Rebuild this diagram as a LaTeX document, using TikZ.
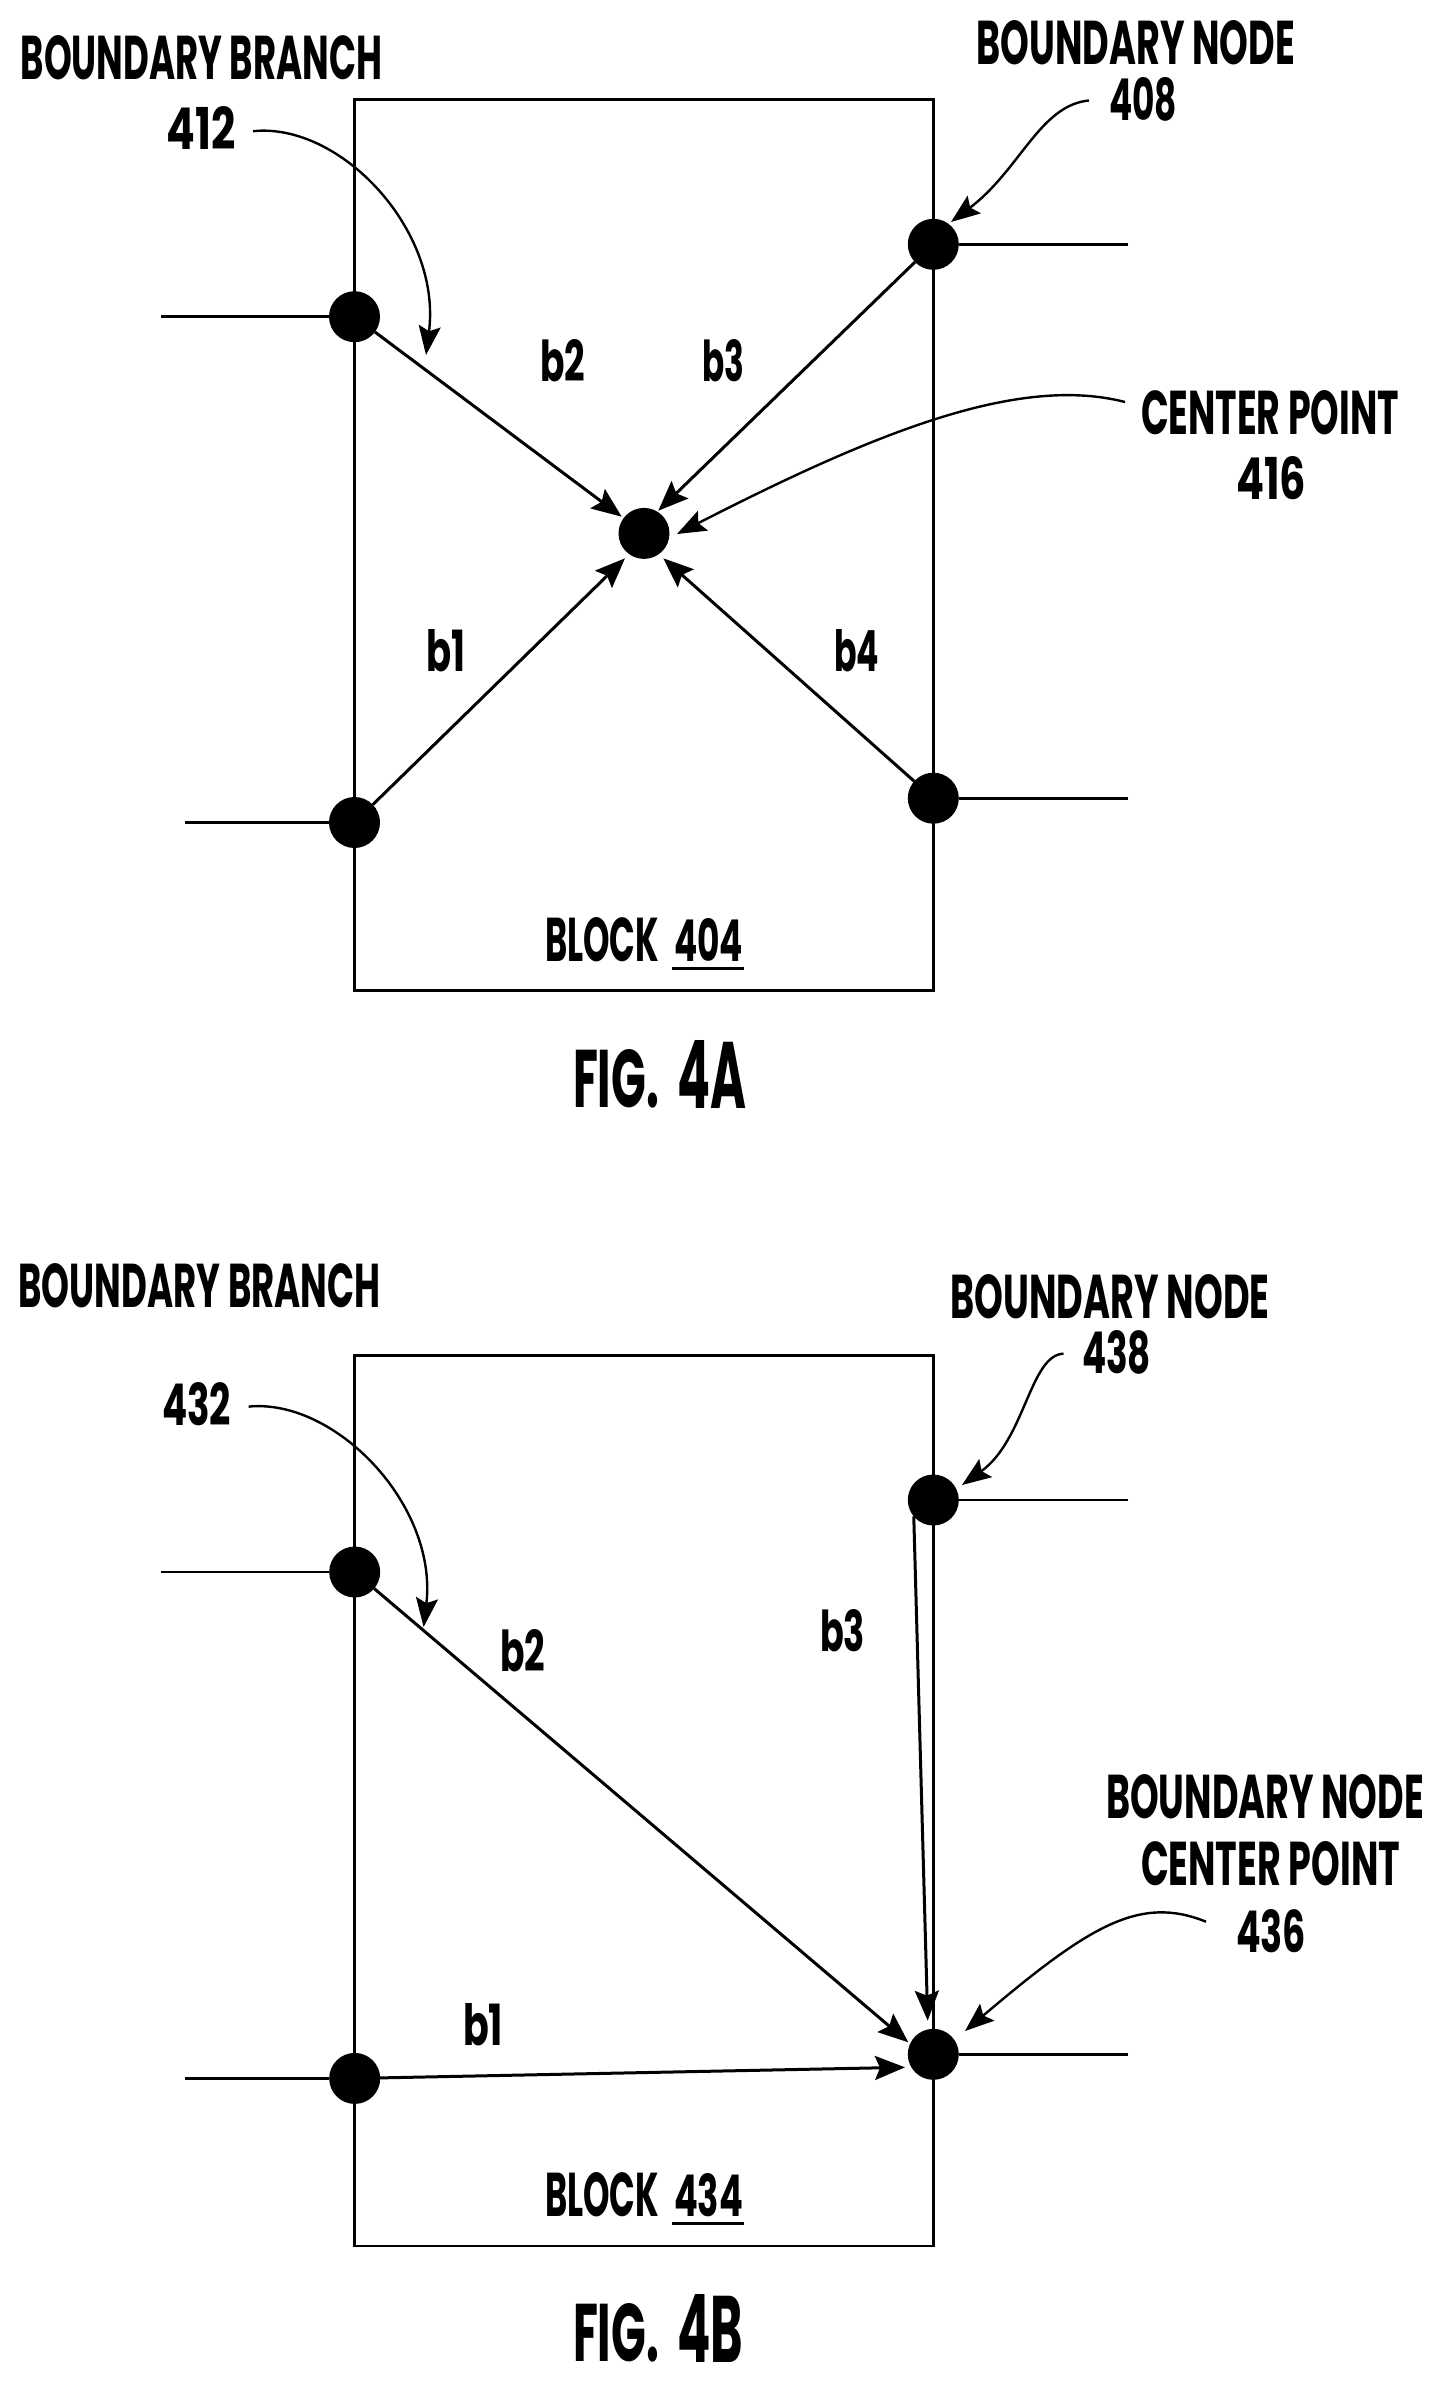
\documentclass[tikz,border=0pt]{standalone}
\usepackage{fontspec}
\setmainfont{Poppins}
\usetikzlibrary{arrows.meta}
\newcommand\fittext[3]{\resizebox{#1pt}{#2pt}{\fontsize{\dimexpr #2pt*10/7\relax}{\dimexpr #2pt*10/7\relax}\selectfont\bfseries #3}}
\tikzset{
  txt/.style={inner sep=0pt,outer sep=0pt,anchor=south west},
  dotnode/.style={circle,fill=black,inner sep=0pt,minimum size=51pt,outer sep=0pt},
  boxline/.style={draw=black,line width=2.8pt,outer sep=0pt},
  stub/.style={draw=black,line width=2.8pt},
  branch/.style={draw=black,line width=3pt,-{Stealth[length=30pt,width=24pt,inset=5pt]}},
  callout/.style={draw=black,line width=2.4pt,-{Stealth[length=29pt,width=22pt,inset=5pt]}},
  ulin/.style={draw=black,line width=3.5pt}
}
\begin{document}
\begin{tikzpicture}[x=1pt,y=-1pt]
\useasboundingbox (0,0) rectangle (1443,2383);
% ---------- FIG 4A ----------
\node[boxline,rectangle,inner sep=0pt,minimum width=578.8pt,minimum height=890.7pt,anchor=north west] (blockA) at (354.5,99.8) {};
\node[dotnode] (altop) at (354.5,316.7) {};
\node[dotnode] (albot) at (354.5,822.5) {};
\node[dotnode] (artop) at (933.3,244.3) {};
\node[dotnode] (arbot) at (933.3,798.2) {};
\node[dotnode] (acen) at (644,533.4) {};
\coordinate (as1) at (161,316.7);
\coordinate (as2) at (185,822.5);
\coordinate (as3) at (1128,244.3);
\coordinate (as4) at (1128,798.2);
\draw[stub] (as1) -- (altop);
\draw[stub] (as2) -- (albot);
\draw[stub] (as3) -- (artop);
\draw[stub] (as4) -- (arbot);
\coordinate (atnw) at (621.7,516.7);
\coordinate (atne) at (658.3,510.7);
\coordinate (atsw) at (625,558.3);
\coordinate (atse) at (663.3,558.3);
\draw[branch] (altop) -- (atnw);
\draw[branch] (artop) -- (atne);
\draw[branch] (albot) -- (atsw);
\draw[branch] (arbot) -- (atse);
\node[txt] (abb) at (20.7,80) {\fittext{361.5}{44}{BOUNDARY BRANCH}};
\node[txt] (a412) at (166.7,149.5) {\fittext{69}{43}{412}};
\node[txt] (abn) at (976.5,65) {\fittext{318.5}{44}{BOUNDARY NODE}};
\node[txt] (a408) at (1109,121.5) {\fittext{68}{43}{408}};
\node[txt] (acp) at (1141,435) {\fittext{258}{44}{CENTER POINT}};
\node[txt] (a416) at (1236,500) {\fittext{70}{43}{416}};
\node[txt] (ab2) at (540,382) {\fittext{45}{42}{b2}};
\node[txt] (ab3) at (702,382) {\fittext{42}{42}{b3}};
\node[txt] (ab1) at (426,671.5) {\fittext{39}{42}{b1}};
\node[txt] (ab4) at (834,671.5) {\fittext{45}{42}{b4}};
\node[txt] (ablk) at (545,961.5) {\fittext{114}{44}{BLOCK}};
\node[txt] (a404) at (674,961.5) {\fittext{69}{43}{404}};
\draw[ulin] ([xshift=-2pt,yshift=-7pt]a404.south west) -- ([xshift=1pt,yshift=-7pt]a404.south east);
\node[txt] (afig) at (573,1108.5) {\fittext{86}{58}{FIG.}};
\node[txt] (a4a) at (677,1108.5) {\fittext{69}{68}{4A}};
\coordinate (ac1) at (253,131.2);
\coordinate (ac2) at (426,355);
\coordinate (ac3) at (1089,100.5);
\coordinate (ac4) at (951,222);
\coordinate (ac5) at (1125,402);
\coordinate (ac6) at (677,534);
\draw[callout] (ac1) .. controls (340,122) and (442,230) .. (ac2);
\draw[callout] (ac3) .. controls (1040,105) and (1020,170) .. (ac4);
\draw[callout] (ac5) .. controls (1020,375) and (880,430) .. (ac6);
% ---------- FIG 4B ----------
\node[boxline,rectangle,inner sep=0pt,minimum width=578.6pt,minimum height=890.5pt,anchor=north west] (blockB) at (354.7,1355.5) {};
\node[dotnode] (bltop) at (354.7,1572) {};
\node[dotnode] (blbot) at (354.7,2078.4) {};
\node[dotnode] (brtop) at (933.3,1500) {};
\node[dotnode] (brbot) at (933.3,2054.3) {};
\coordinate (bs1) at (161,1572);
\coordinate (bs2) at (185,2078.4);
\coordinate (bs3) at (1128,1500);
\coordinate (bs4) at (1128,2054.3);
\draw[stub] (bs1) -- (bltop);
\draw[stub] (bs2) -- (blbot);
\draw[stub] (bs3) -- (brtop);
\draw[stub] (bs4) -- (brbot);
\coordinate (btb2) at (908.3,2042.3);
\coordinate (btb3) at (927.7,2020.7);
\coordinate (btb1) at (905,2067.3);
\draw[branch] (bltop) -- (btb2);
\draw[branch] (brtop.220) -- (btb3);
\draw[branch] (blbot) -- (btb1);
\node[txt] (bbb) at (18.5,1307.5) {\fittext{362}{44}{BOUNDARY BRANCH}};
\node[txt] (b432) at (162,1425.5) {\fittext{69}{43}{432}};
\node[txt] (bbn) at (950.5,1318.5) {\fittext{319}{44}{BOUNDARY NODE}};
\node[txt] (b438) at (1082,1374) {\fittext{69}{43}{438}};
\node[txt] (bb2) at (500,1672) {\fittext{45}{42}{b2}};
\node[txt] (bb3) at (820,1651.5) {\fittext{45}{42}{b3}};
\node[txt] (bb1) at (463,2045.5) {\fittext{40}{42}{b1}};
\node[txt] (bbn2) at (1106,1819) {\fittext{318}{44}{BOUNDARY NODE}};
\node[txt] (bcp) at (1141,1885.5) {\fittext{259}{44}{CENTER POINT}};
\node[txt] (b436) at (1236,1953) {\fittext{70}{43}{436}};
\node[txt] (bblk) at (545,2216.7) {\fittext{114}{44}{BLOCK}};
\node[txt] (b434) at (674,2216.7) {\fittext{69}{43}{434}};
\draw[ulin] ([xshift=-2pt,yshift=-7pt]b434.south west) -- ([xshift=1pt,yshift=-7pt]b434.south east);
\node[txt] (bfig) at (573,2362) {\fittext{86}{58}{FIG.}};
\node[txt] (b4b) at (677,2362) {\fittext{66}{68}{4B}};
\coordinate (bc1) at (248.6,1406.6);
\coordinate (bc2) at (423.6,1627);
\coordinate (bc3) at (1063.5,1353.6);
\coordinate (bc4) at (962,1485);
\coordinate (bc5) at (1206,1921.7);
\coordinate (bc6) at (965,2031);
\draw[callout] (bc1) .. controls (335,1398) and (438,1505) .. (bc2);
\draw[callout] (bc3) .. controls (1030,1355) and (1025,1440) .. (bc4);
\draw[callout] (bc5) .. controls (1140,1895) and (1090,1925) .. (bc6);
\end{tikzpicture}
\end{document}
